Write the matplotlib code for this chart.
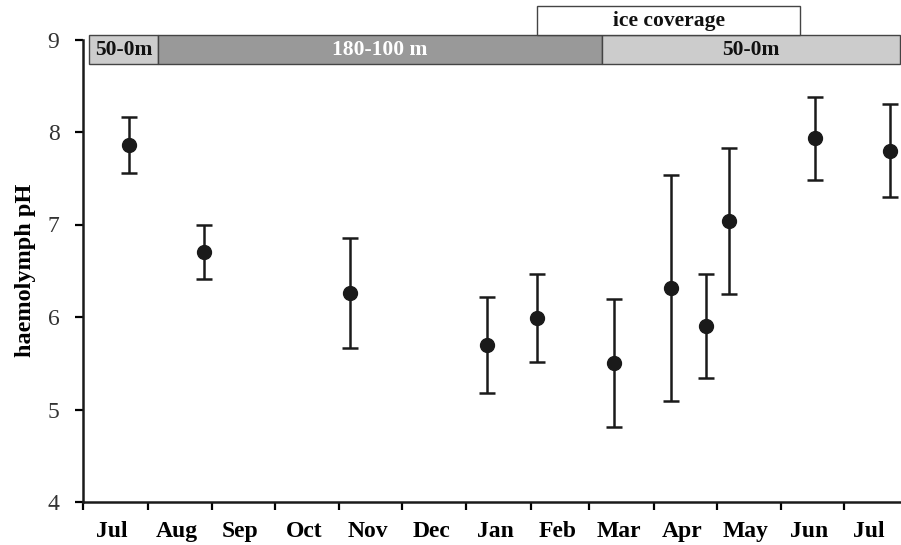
import matplotlib
matplotlib.use("Agg")
import matplotlib.pyplot as plt
from matplotlib.patches import Rectangle
import numpy as np

plt.rcParams['font.family'] = ['Liberation Serif', 'DejaVu Serif']

# Months on the axis, starting 1 July, with their length in days
months = ["Jul", "Aug", "Sep", "Oct", "Nov", "Dec", "Jan", "Feb", "Mar", "Apr", "May", "Jun", "Jul"]
month_days = [31, 31, 30, 31, 30, 31, 31, 28, 31, 30, 31, 30, 27]

# Sampling day (days after 1 July) and haemolymph pH (mean, SD)
sample_day = [22, 58, 128, 194, 218, 255, 282, 299, 310, 351, 387]
ph_mean = [7.86, 6.70, 6.26, 5.70, 5.99, 5.50, 6.31, 5.90, 7.04, 7.93, 7.80]
ph_sd = [0.30, 0.29, 0.59, 0.52, 0.48, 0.69, 1.22, 0.56, 0.79, 0.45, 0.50]

# Depth of the animals over the year
zone_start = [3, 36, 249]
zone_end = [36, 249, 392]
zone_label = ["50-0m", "180-100 m", "50-0m"]
zone_colour = ["#cccccc", "#999999", "#cccccc"]
zone_text = ["#111111", "white", "#111111"]

# Ice coverage period
ice_start = 218
ice_end = 344

fig = plt.figure(figsize=(9.01, 5.45), dpi=100)
ax = fig.add_axes([83 / 901, 43 / 545, 817 / 901, 462.5 / 545])

ax.errorbar(sample_day, ph_mean, yerr=ph_sd, fmt="o", color="#1a1a1a",
            markersize=10, elinewidth=1.8, capsize=6, capthick=1.8)

edges = np.concatenate([[0], np.cumsum(month_days)])
centres = (edges[:-1] + edges[1:]) / 2
ax.set_xlim(0, edges[-1])
ax.set_ylim(4, 9)
ax.set_xticks(edges[:-1])
ax.set_xticklabels([])
ax.set_xticks(centres - 1.5, minor=True)
ax.set_xticklabels(months, minor=True, fontsize=17, fontweight="bold")
ax.tick_params(axis="x", which="major", direction="out", length=6, width=1.6)
ax.tick_params(axis="x", which="minor", length=0, pad=14)
ax.set_yticks(range(4, 10))
ax.tick_params(axis="y", direction="out", length=6, width=1.6, labelsize=17, pad=11)
for lab in ax.get_yticklabels():
    lab.set_color("#333333")

for side in ["top", "right"]:
    ax.spines[side].set_visible(False)
for side in ["left", "bottom"]:
    ax.spines[side].set_linewidth(1.8)
    ax.spines[side].set_color("#1a1a1a")

ax.set_ylabel("haemolymph pH", fontsize=17.5, fontweight="bold", labelpad=8)

# Depth band along the top
for x0, x1, lab, fc, tc in zip(zone_start, zone_end, zone_label, zone_colour, zone_text):
    ax.add_patch(Rectangle((x0, 8.73), x1 - x0, 0.32, facecolor=fc, edgecolor="#444444",
                           linewidth=1, clip_on=False, zorder=3))
    ax.text((x0 + x1) / 2, 8.89, lab, ha="center", va="center", fontsize=15.5,
            fontweight="bold", color=tc, zorder=4, clip_on=False)

ax.add_patch(Rectangle((ice_start, 9.05), ice_end - ice_start, 0.31, facecolor="white",
                       edgecolor="#444444", linewidth=1, clip_on=False, zorder=3))
ax.text((ice_start + ice_end) / 2, 9.205, "ice coverage", ha="center", va="center",
        fontsize=15.5, fontweight="bold", color="#111111", zorder=4, clip_on=False)

fig.savefig("out.png", dpi=100)
